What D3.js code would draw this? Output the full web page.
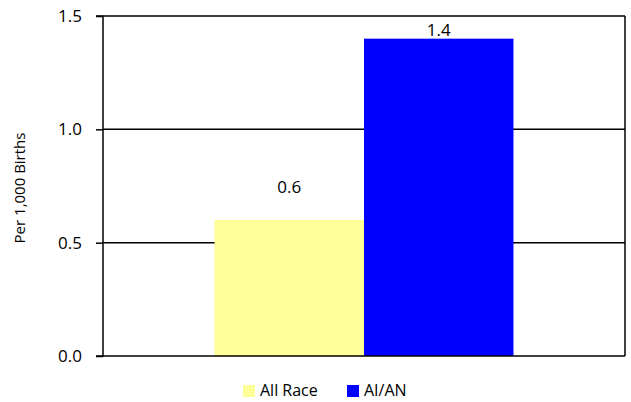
<!DOCTYPE html>
<html><head><meta charset="utf-8">
<script src="https://cdn.jsdelivr.net/npm/d3@7"></script>
<style>body{margin:0;background:#fff}svg{display:block}</style>
</head><body>
<svg id="c" width="631" height="402"></svg>
<script>
const seriesNames = ["All Race", "AI/AN"];
const seriesValues = [0.6, 1.4];
const seriesColors = ["#FFFF99", "#0000FF"];
const yTicks = [0.0, 0.5, 1.0, 1.5];
const yTitle = "Per 1,000 Births";

const svg = d3.select("#c");
const font = "'Open Sans', 'Noto Sans', sans-serif";
const m = {l:103, r:625, t:16, b:356};
const y = d3.scaleLinear().domain([0,1.5]).range([m.b, m.t]);
const x0 = d3.scaleBand().domain(["g"]).range([m.l, m.r]).paddingInner(0).paddingOuter(0.373);
const x1 = d3.scaleBand().domain(seriesNames).range([0, x0.bandwidth()]);

// gridlines
svg.append("g").selectAll("line").data(yTicks.filter(d=>d>0)).join("line")
  .attr("x1", m.l).attr("x2", m.r).attr("y1", d=>y(d)).attr("y2", d=>y(d))
  .attr("stroke", "#000").attr("stroke-width", 1.5);

// bars
svg.append("g").selectAll("rect").data(seriesNames).join("rect")
  .attr("x", d=>x0("g")+x1(d)).attr("width", x1.bandwidth())
  .attr("y", (d,i)=>y(seriesValues[i])).attr("height", (d,i)=>y(0)-y(seriesValues[i]))
  .attr("fill", (d,i)=>seriesColors[i]);

// frame
svg.append("line").attr("x1", m.r).attr("x2", m.r).attr("y1", m.t).attr("y2", m.b).attr("stroke","#000").attr("stroke-width",1.5);
svg.append("line").attr("x1", m.l).attr("x2", m.r).attr("y1", m.b).attr("y2", m.b).attr("stroke","#000").attr("stroke-width",1.5);

// y axis
const ya = d3.axisLeft(y).tickValues(yTicks).tickFormat(d3.format(".1f")).tickSize(7).tickPadding(14);
const ga = svg.append("g").attr("transform", `translate(${m.l},0)`).call(ya);
ga.select(".domain").attr("stroke","#000").attr("stroke-width",1.5).attr("d", `M-7,${m.t}H0V${m.b}H-7`);
ga.selectAll(".tick line").attr("stroke","#000").attr("stroke-width",1.5);
ga.selectAll(".tick text").attr("font-family", font).attr("font-size", 17).attr("fill","#000");

// value labels
svg.append("g").selectAll("text").data(seriesNames).join("text")
  .attr("x", d=>x0("g")+x1(d)+x1.bandwidth()/2)
  .attr("y", (d,i)=>y(seriesValues[i]) - (i===0 ? 27 : 3))
  .attr("text-anchor","middle").attr("font-family", font).attr("font-size", 17).attr("fill","#000")
  .text((d,i)=>d3.format(".1f")(seriesValues[i]));

// y title
svg.append("text").attr("transform", `translate(25,${(m.t+m.b)/2+2}) rotate(-90)`)
  .attr("text-anchor","middle").attr("font-family", font).attr("font-size", 15).attr("fill","#000")
  .text(yTitle);

// legend
const lg = svg.append("g");
const lx = [243, 347];
seriesNames.forEach((n,i)=>{
  lg.append("rect").attr("x", lx[i]).attr("y", 385).attr("width", 12).attr("height", 12).attr("fill", seriesColors[i]);
  lg.append("text").attr("x", lx[i]+17).attr("y", 396).attr("font-family", font).attr("font-size", 16).attr("fill","#000").text(n);
});
</script>
</body></html>
